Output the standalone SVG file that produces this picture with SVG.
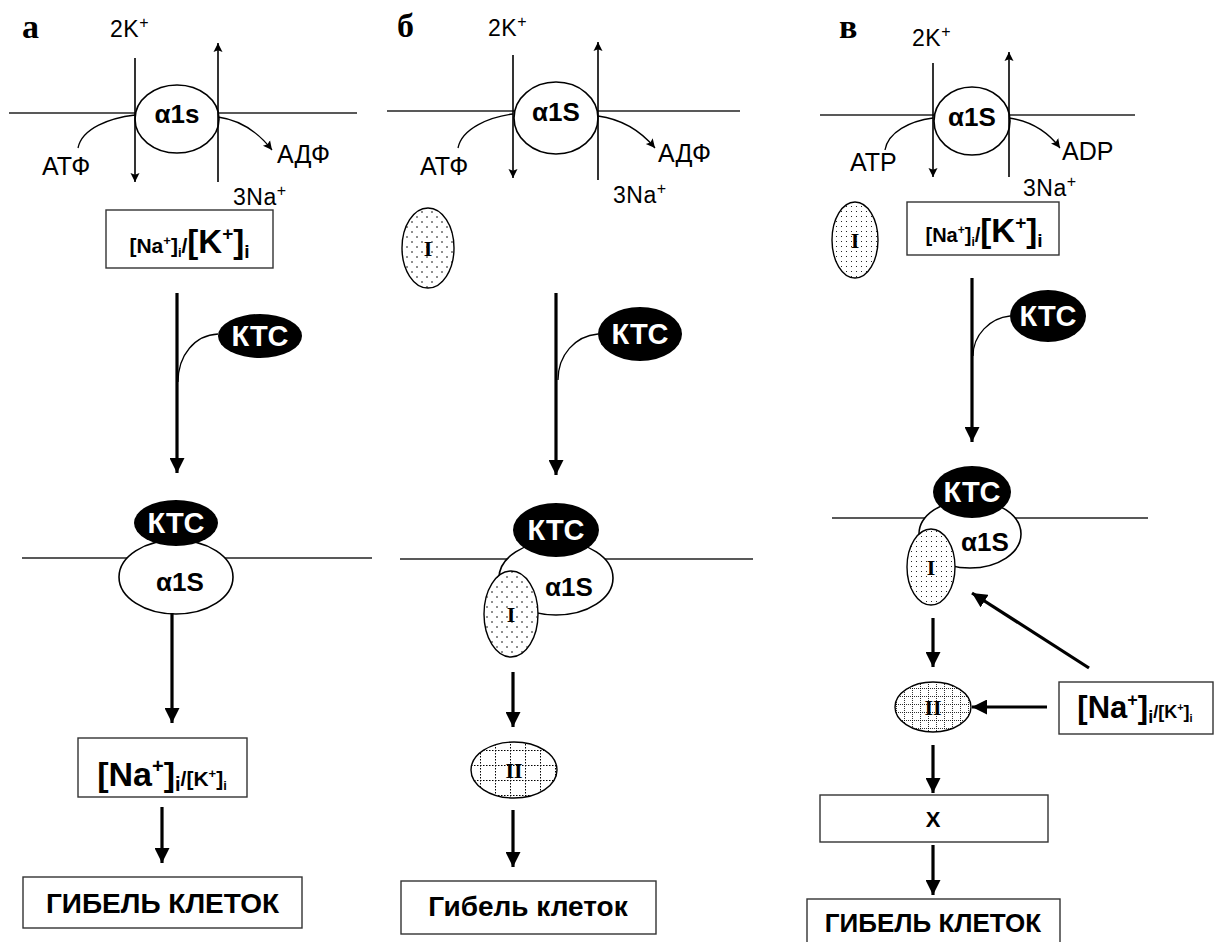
<svg xmlns="http://www.w3.org/2000/svg" width="1219" height="942" viewBox="0 0 1219 942">
<style>
text{font-family:"Liberation Sans",Arial,sans-serif;fill:#000}
.lbl{font-family:"Liberation Serif","Times New Roman",serif;font-weight:bold;font-size:34px}
.ion{font-size:23px;letter-spacing:0.5px}
.nuc{font-size:25px}
.b{font-weight:bold}
.alpha{font-weight:bold;font-size:26px;text-anchor:middle}
.mem{stroke:#222;stroke-width:1.3;fill:none}
.pump{stroke:#000;stroke-width:1.6;fill:#fff}
.thin{stroke:#000;stroke-width:1.6;fill:none}
.curve{stroke:#000;stroke-width:1.3;fill:none}
.thick{stroke:#000;stroke-width:3.2;fill:none}
.box{stroke:#333;stroke-width:1.4;fill:#fff}
.ktc{fill:#000}
.ktct{fill:#fff;font-weight:bold;font-size:29px;text-anchor:middle}
.rom{font-family:"Liberation Serif","Times New Roman",serif;font-weight:bold;font-size:22px;text-anchor:middle}
.ell{stroke:#000;stroke-width:1.4}
</style>
<defs>
<marker id="ah" viewBox="0 0 10 10" refX="10" refY="5" markerWidth="9" markerHeight="11" markerUnits="userSpaceOnUse" orient="auto"><path d="M0,0 L10,5 L0,10 L2,5 z" fill="#000"/></marker>
<marker id="ahB" viewBox="0 0 10 10" refX="10" refY="5" markerWidth="15" markerHeight="15" markerUnits="userSpaceOnUse" orient="auto"><path d="M0,0 L10,5 L0,10 z" fill="#000"/></marker>
<pattern id="dotS" width="10" height="10" patternUnits="userSpaceOnUse"><rect width="10" height="10" fill="#fff"/><circle cx="2" cy="2" r="0.8" fill="#000"/><circle cx="7" cy="7" r="0.8" fill="#000"/></pattern>
<pattern id="dotD" width="5" height="5" patternUnits="userSpaceOnUse"><rect width="5" height="5" fill="#fff"/><circle cx="1.5" cy="1.5" r="0.55" fill="#000"/></pattern>
<pattern id="gridS" width="15" height="15" patternUnits="userSpaceOnUse"><rect width="15" height="15" fill="#fff"/><path d="M0,0.5 H15 M0.5,0 V15" stroke="#000" stroke-width="1" stroke-dasharray="1.5,1.5"/></pattern>
<pattern id="gridD" width="8" height="8" patternUnits="userSpaceOnUse"><rect width="8" height="8" fill="#fff"/><path d="M0,0.5 H8 M0.5,0 V8" stroke="#000" stroke-width="0.8" stroke-dasharray="1,1"/></pattern>
</defs>

<!-- ============ Panel a ============ -->
<g id="panel-a">
<text class="lbl" x="22" y="38">а</text>
<text class="ion" x="110" y="37">2K<tspan font-size="16" dy="-9">+</tspan></text>
<line class="mem" x1="9" y1="113" x2="357" y2="113"/>
<g id="a-pump"><ellipse class="pump" cx="177" cy="119" rx="42" ry="34"/>
<text class="alpha" x="177" y="123">α1s</text></g>
<text class="nuc" x="42" y="175">АТФ</text>
<text class="nuc" x="277" y="163">АДФ</text>
<text class="ion" x="233" y="205">3Na<tspan font-size="16" dy="-9">+</tspan></text>
<g id="a-ratio1"><rect class="box" x="106" y="210" width="167" height="58"/>
<text class="b" x="189.5" y="253" text-anchor="middle"><tspan font-size="21">[Na</tspan><tspan font-size="13" dy="-8">+</tspan><tspan font-size="21" dy="8">]</tspan><tspan font-size="13" dy="4">i</tspan><tspan font-size="21" dy="-4">/</tspan><tspan font-size="33">[K</tspan><tspan font-size="19" dy="-13">+</tspan><tspan font-size="33" dy="13">]</tspan><tspan font-size="19" dy="5">i</tspan></text></g>
<g id="a-ktc1"><ellipse class="ktc" cx="260" cy="336" rx="42" ry="22"/><text class="ktct" x="260" y="346">КТС</text></g>
<line class="mem" x1="22" y1="558" x2="372" y2="558"/>
<g id="a-complex"><ellipse class="pump" cx="176" cy="577" rx="57" ry="37"/>
<ellipse class="ktc" cx="176" cy="523" rx="42" ry="23"/><text class="ktct" x="176" y="533">КТС</text>
<text class="alpha" x="180" y="591">α1S</text></g>
<g id="a-ratio2"><rect class="box" x="78" y="738" width="169" height="59"/>
<text class="b" x="162" y="786" text-anchor="middle"><tspan font-size="34">[Na</tspan><tspan font-size="20" dy="-13">+</tspan><tspan font-size="34" dy="13">]</tspan><tspan font-size="20" dy="5">i</tspan><tspan font-size="21" dy="-5">/[K</tspan><tspan font-size="13" dy="-8">+</tspan><tspan font-size="21" dy="8">]</tspan><tspan font-size="13" dy="4">i</tspan></text></g>
<g id="a-death"><rect class="box" x="23" y="877" width="279" height="51"/>
<text class="b" x="162.5" y="913" font-size="28" text-anchor="middle">ГИБЕЛЬ КЛЕТОК</text></g>
</g>

<!-- ============ Panel б ============ -->
<g id="panel-b">
<text class="lbl" x="397" y="37">б</text>
<text class="ion" x="488" y="36">2K<tspan font-size="16" dy="-9">+</tspan></text>
<line class="mem" x1="387" y1="111" x2="740" y2="111"/>
<g id="b-pump"><ellipse class="pump" cx="556" cy="118" rx="42" ry="36"/>
<text class="alpha" x="556" y="121">α1S</text></g>
<text class="nuc" x="420" y="175">АТФ</text>
<text class="nuc" x="658" y="162">АДФ</text>
<text class="ion" x="613" y="203">3Na<tspan font-size="16" dy="-9">+</tspan></text>
<g id="b-I1"><ellipse class="ell" fill="url(#dotS)" cx="428" cy="248" rx="26" ry="40"/><text class="rom" x="428" y="256">I</text></g>
<g id="b-ktc1"><ellipse class="ktc" cx="640" cy="334" rx="42" ry="27"/><text class="ktct" x="640" y="344">КТС</text></g>
<line class="mem" x1="400" y1="559" x2="753" y2="559"/>
<g id="b-complex"><ellipse class="pump" cx="556" cy="578" rx="57" ry="37"/>
<ellipse class="ktc" cx="556" cy="530" rx="43" ry="27"/><text class="ktct" x="556" y="540">КТС</text>
<text class="alpha" x="569" y="596">α1S</text>
<ellipse class="ell" fill="url(#dotS)" cx="511" cy="614" rx="27" ry="43"/><text class="rom" x="511" y="622">I</text></g>
<g id="b-II"><ellipse class="ell" fill="url(#gridS)" cx="514" cy="770" rx="43" ry="28"/><text class="rom" x="514" y="778">II</text></g>
<g id="b-death"><rect class="box" x="401" y="881" width="255" height="53"/>
<text class="b" x="528" y="916" font-size="28" text-anchor="middle">Гибель клеток</text></g>
</g>

<!-- ============ Panel в ============ -->
<g id="panel-c">
<text class="lbl" x="839" y="38">в</text>
<text class="ion" x="912" y="46">2K<tspan font-size="16" dy="-9">+</tspan></text>
<line class="mem" x1="820" y1="115" x2="1135" y2="115"/>
<g id="c-pump"><ellipse class="pump" cx="972" cy="121" rx="38" ry="34"/>
<text class="alpha" x="972" y="126">α1S</text></g>
<text class="nuc" x="850" y="171">ATP</text>
<text class="nuc" x="1062" y="160">ADP</text>
<text class="ion" x="1023" y="196">3Na<tspan font-size="16" dy="-9">+</tspan></text>
<g id="c-I1"><ellipse class="ell" fill="url(#dotD)" cx="855" cy="240" rx="23" ry="38"/><text class="rom" x="855" y="248">I</text></g>
<g id="c-ratio1"><rect class="box" x="907" y="202" width="152" height="53"/>
<text class="b" x="984" y="242" text-anchor="middle"><tspan font-size="20">[Na</tspan><tspan font-size="12" dy="-8">+</tspan><tspan font-size="20" dy="8">]</tspan><tspan font-size="12" dy="4">i</tspan><tspan font-size="20" dy="-4">/</tspan><tspan font-size="33">[K</tspan><tspan font-size="19" dy="-13">+</tspan><tspan font-size="33" dy="13">]</tspan><tspan font-size="19" dy="5">i</tspan></text></g>
<g id="c-ktc1"><ellipse class="ktc" cx="1048" cy="316" rx="38" ry="26"/><text class="ktct" x="1048" y="326">КТС</text></g>
<line class="mem" x1="832" y1="518" x2="1148" y2="518"/>
<g id="c-complex"><ellipse class="pump" cx="970" cy="534" rx="51" ry="34"/>
<ellipse class="ktc" cx="972" cy="492" rx="39" ry="26"/><text class="ktct" x="972" y="502">КТС</text>
<text class="alpha" x="985" y="551">α1S</text>
<ellipse class="ell" fill="url(#dotD)" cx="931" cy="567" rx="24" ry="38"/><text class="rom" x="931" y="575">I</text></g>
<g id="c-II"><ellipse class="ell" fill="url(#gridD)" cx="933" cy="707" rx="38" ry="25"/><text class="rom" x="933" y="715">II</text></g>
<g id="c-ratio2"><rect class="box" x="1059" y="682" width="154" height="52"/>
<text class="b" x="1135" y="718" text-anchor="middle"><tspan font-size="31">[Na</tspan><tspan font-size="18" dy="-12">+</tspan><tspan font-size="31" dy="12">]</tspan><tspan font-size="18" dy="5">i</tspan><tspan font-size="18" dy="-5">/[K</tspan><tspan font-size="11" dy="-7">+</tspan><tspan font-size="18" dy="7">]</tspan><tspan font-size="11" dy="4">i</tspan></text></g>
<g id="c-X"><rect class="box" x="820" y="795" width="228" height="47"/>
<text class="b" x="933" y="827" font-size="22" text-anchor="middle">X</text></g>
<g id="c-death"><rect class="box" x="807" y="899" width="253" height="50"/>
<text class="b" x="933" y="932" font-size="26" text-anchor="middle">ГИБЕЛЬ КЛЕТОК</text></g>
</g>

<!-- ============ Connectors ============ -->
<g id="connectors">
<!-- a -->
<line class="thin" x1="135" y1="58" x2="135" y2="182" marker-end="url(#ah)"/>
<line class="thin" x1="218" y1="182" x2="218" y2="43" marker-end="url(#ah)"/>
<path class="curve" d="M135,115 C110,118 82,128 78,148"/>
<path class="curve" d="M218,117 C240,120 258,132 272,150" marker-end="url(#ah)"/>
<line class="thick" x1="177" y1="293" x2="177" y2="473" marker-end="url(#ahB)"/>
<path class="curve" d="M218,334 C195,335 178,355 178,382"/>
<line class="thick" x1="172" y1="613" x2="172" y2="723" marker-end="url(#ahB)"/>
<line class="thick" x1="162" y1="807" x2="162" y2="863" marker-end="url(#ahB)"/>
<!-- б -->
<line class="thin" x1="513" y1="55" x2="513" y2="178" marker-end="url(#ah)"/>
<line class="thin" x1="598" y1="180" x2="598" y2="42" marker-end="url(#ah)"/>
<path class="curve" d="M513,114 C490,117 462,128 458,148"/>
<path class="curve" d="M598,116 C620,119 640,130 655,148" marker-end="url(#ah)"/>
<line class="thick" x1="556" y1="293" x2="556" y2="475" marker-end="url(#ahB)"/>
<path class="curve" d="M598,334 C575,336 558,355 558,380"/>
<line class="thick" x1="513" y1="672" x2="513" y2="727" marker-end="url(#ahB)"/>
<line class="thick" x1="513" y1="810" x2="513" y2="867" marker-end="url(#ahB)"/>
<!-- в -->
<line class="thin" x1="933" y1="63" x2="933" y2="177" marker-end="url(#ah)"/>
<line class="thin" x1="1009" y1="177" x2="1009" y2="52" marker-end="url(#ah)"/>
<path class="curve" d="M933,118 C910,121 888,132 885,150"/>
<path class="curve" d="M1009,118 C1030,121 1048,132 1060,148" marker-end="url(#ah)"/>
<line class="thick" x1="972" y1="278" x2="972" y2="442" marker-end="url(#ahB)"/>
<path class="curve" d="M1010,316 C990,318 973,335 973,356"/>
<line class="thick" x1="1089" y1="668" x2="972" y2="593" stroke-width="2.6" marker-end="url(#ahB)"/>
<line class="thick" x1="933" y1="618" x2="933" y2="667" marker-end="url(#ahB)"/>
<line class="thick" x1="1047" y1="707" x2="972" y2="707" marker-end="url(#ahB)"/>
<line class="thick" x1="933" y1="745" x2="933" y2="793" marker-end="url(#ahB)"/>
<line class="thick" x1="933" y1="845" x2="933" y2="895" marker-end="url(#ahB)"/>
</g>
</svg>
